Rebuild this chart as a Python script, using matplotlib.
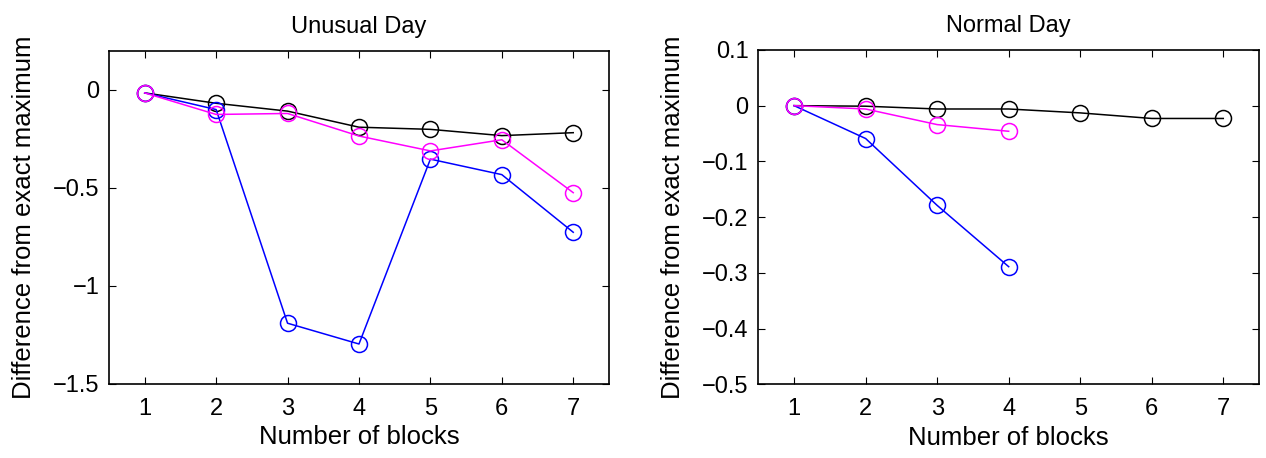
import matplotlib
matplotlib.use("Agg")
import matplotlib.pyplot as plt

plt.rcParams["font.family"] = ["Liberation Sans", "DejaVu Sans"]

blocks = [1, 2, 3, 4, 5, 6, 7]

# Unusual day
unusual_black = [-0.015, -0.068, -0.108, -0.19, -0.201, -0.233, -0.218]
unusual_blue = [-0.015, -0.10, -1.19, -1.296, -0.353, -0.432, -0.726]
unusual_magenta = [-0.015, -0.125, -0.12, -0.235, -0.311, -0.254, -0.524]

# Normal day
normal_black = [0.0, -0.001, -0.006, -0.006, -0.013, -0.023, -0.023]
normal_blue = [0.0, -0.059, -0.179, -0.289]
normal_magenta = [0.0, -0.006, -0.034, -0.046]

fig = plt.figure(figsize=(12.66, 4.58), dpi=100)
ax1 = fig.add_axes([0.0861, 0.1616, 0.3949, 0.7276])
ax2 = fig.add_axes([0.599, 0.161, 0.3955, 0.730])

style = dict(marker="o", markersize=11.5, markerfacecolor="none", lw=1.1, mew=1.1)


def panel(ax, series, title, ylim, yticks, yticklabels):
    for ys, c in series:
        ax.plot(blocks[:len(ys)], ys, color=c, markeredgecolor=c, **style)
    ax.set_xlim(0.5, 7.5)
    ax.set_ylim(*ylim)
    ax.set_xticks(blocks)
    ax.set_yticks(yticks)
    ax.set_yticklabels(yticklabels)
    ax.tick_params(axis="both", direction="in", length=5, width=0.8, top=True, right=True,
                   labelsize=17)
    ax.tick_params(axis="x", pad=10)
    ax.tick_params(axis="y", pad=7)
    for s in ax.spines.values():
        s.set_linewidth(1.2)
    ax.set_title(title, fontsize=17, pad=13)
    ax.set_xlabel("Number of blocks", fontsize=18.5, labelpad=4)
    ax.set_ylabel("Difference from exact maximum", fontsize=18.5, labelpad=12)


panel(ax1, [(unusual_black, "k"), (unusual_blue, "#0000ff"), (unusual_magenta, "#ff00ff")],
      "Unusual Day", (-1.5, 0.2), [-1.5, -1, -0.5, 0], ["\u22121.5", "\u22121", "\u22120.5", "0"])
panel(ax2, [(normal_black, "k"), (normal_blue, "#0000ff"), (normal_magenta, "#ff00ff")],
      "Normal Day", (-0.5, 0.1), [-0.5, -0.4, -0.3, -0.2, -0.1, 0, 0.1],
      ["\u22120.5", "\u22120.4", "\u22120.3", "\u22120.2", "\u22120.1", "0", "0.1"])

fig.savefig("out.png", dpi=100, facecolor="white")
